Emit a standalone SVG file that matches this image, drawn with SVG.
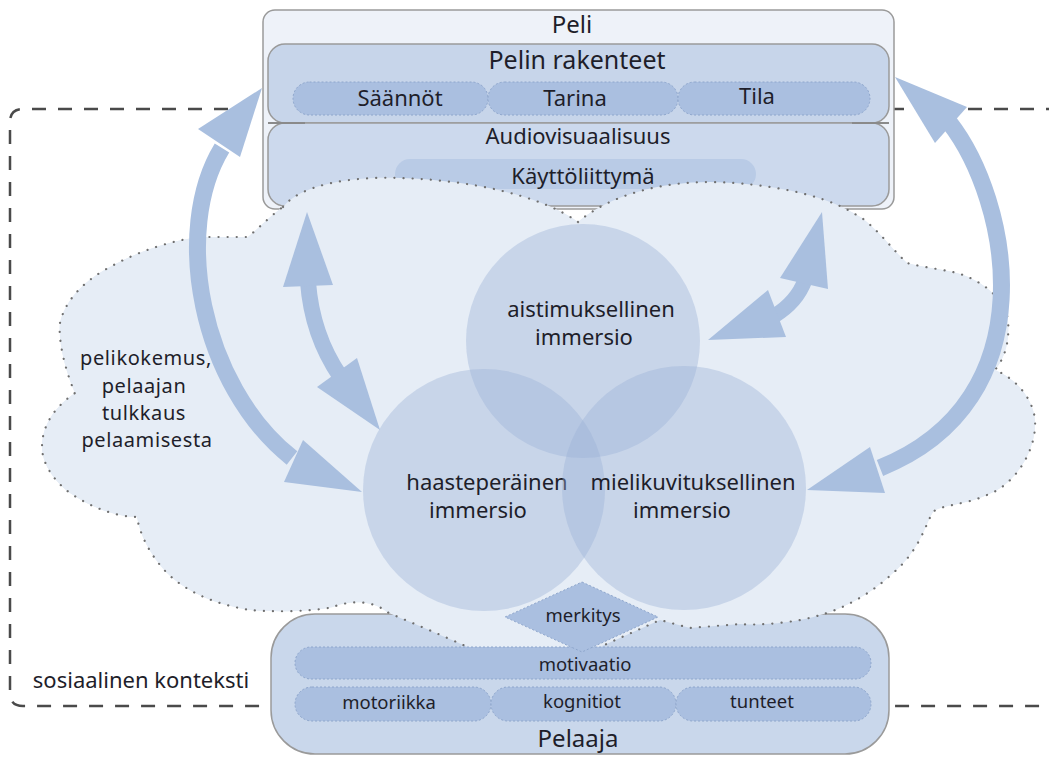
<svg xmlns="http://www.w3.org/2000/svg" width="1049" height="758" viewBox="0 0 1049 758">
<style>
text{font-family:"Noto Sans","Open Sans","DejaVu Sans",sans-serif;fill:#1e1e2a;text-anchor:middle}
.t22{font-size:22px}.t25{font-size:25px}.t19{font-size:18.5px}.t24{font-size:24px}
.t20{font-size:20px;letter-spacing:0.6px}
.pill{fill:#aabfe0;stroke:#8ea6cc;stroke-width:1;stroke-dasharray:2 2}
.box{stroke:#9a9a9a;stroke-width:1.5}
.circ{fill:#9ab2d7;fill-opacity:0.4}
.arrow{fill:#a9bfdf}
.abody{fill:none;stroke:#a9bfdf}
.dots{fill:none;stroke:#6f6f6f;stroke-width:2.2;stroke-linecap:round;stroke-dasharray:0.1 9}
.ctx{fill:none;stroke:#4a4a4a;stroke-width:2.5;stroke-dasharray:14 12}
</style>
<rect width="1049" height="758" fill="#ffffff"/>
<g id="cloud-fill">
<path id="cloudshape" d="M283,207 C300,185 350,176 400,178 C470,180 540,195 578,222 C610,195 660,182 710,182 C770,183 820,195 848,210 L862,218 C880,232 893,250 907,263 C925,268 950,270 963,275 C985,283 1005,300 1008,320 C1010,345 1003,360 995,370 C1015,378 1033,398 1035,420 C1037,450 1015,485 987,495 C965,505 940,505 933,512 C925,525 920,550 893,573 C870,595 840,610 820,615 C800,622 760,626 740,624 L690,628 L660,620 L582,655 L470,648 C430,630 400,618 387,612 C370,598 345,602 333,607 C310,612 270,612 250,610 C220,605 190,595 167,573 C150,555 140,535 137,517 C120,517 95,510 70,493 C50,478 42,460 42,447 C42,430 50,410 75,393 C65,370 58,340 60,323 C65,300 85,280 110,267 C140,250 175,240 200,237 L248,237 C262,225 275,212 283,207 Z" fill="#e6edf6"/>
</g>
<g id="context">
<path class="ctx" d="M1060,109 L23,109 Q10,109 10,122 L10,693 Q10,706 23,706 L1060,706"/>
<text x="141" y="688" class="t22">sosiaalinen konteksti</text>
</g>
<g id="peli">
<rect x="263" y="10" width="631" height="199" rx="12" fill="#eef2f9" class="box"/>
<text x="572" y="33" class="t24">Peli</text>
</g>
<g id="pelin-rakenteet">
<rect x="268" y="44" width="621" height="79" rx="17" fill="#c7d5ea" class="box"/>
<text x="577" y="69" class="t25">Pelin rakenteet</text>
<rect x="293" y="82" width="195" height="33" rx="16.5" class="pill"/>
<rect x="488" y="82" width="190" height="33" rx="16.5" class="pill"/>
<rect x="678" y="82" width="192" height="33" rx="16.5" class="pill"/>
<text x="400" y="106" class="t22">Säännöt</text>
<text x="575" y="106" class="t22">Tarina</text>
<text x="757" y="104" class="t22">Tila</text>
</g>
<g id="audiovisuaalisuus">
<rect x="268" y="123" width="621" height="83" rx="17" fill="#ccd9ed" class="box"/>
<path d="M268,123 L305,123 M852,123 L889,123" stroke="#8a8a8a" stroke-width="2"/>
<text x="578" y="144" class="t22">Audiovisuaalisuus</text>
<rect x="395" y="159" width="361" height="30" rx="15" fill="#b9cbe6" stroke="none"/>
<text x="583" y="184" class="t22">Käyttöliittymä</text>
</g>
<g id="pelaaja">
<rect x="271" y="614" width="618" height="140" rx="44" fill="#c9d7eb" class="box" stroke="#8c8c8c"/>
</g>
<g id="cloud-outline">
<use href="#cloudshape" class="dots"/>
<text x="146" y="365" class="t20">pelikokemus,</text>
<text x="144" y="393" class="t20">pelaajan</text>
<text x="144" y="420" class="t20">tulkkaus</text>
<text x="147" y="447" class="t20">pelaamisesta</text>
</g>
<g id="pelaaja-parts">
<rect x="295" y="647" width="576" height="32" rx="16" class="pill"/>
<text x="585" y="671" class="t19">motivaatio</text>
<rect x="295" y="687" width="196" height="34" rx="17" class="pill"/>
<rect x="491" y="687" width="185" height="34" rx="17" class="pill"/>
<rect x="676" y="687" width="195" height="34" rx="17" class="pill"/>
<text x="389" y="709" class="t19">motoriikka</text>
<text x="582" y="708" class="t19">kognitiot</text>
<text x="762" y="708" class="t19">tunteet</text>
<text x="578" y="747" class="t24">Pelaaja</text>
</g>
<g id="merkitys">
<polygon points="582,582 658,617 582,652 505,617" class="pill"/>
<text x="583" y="622" class="t19">merkitys</text>
</g>
<g id="aistimuksellinen">
<circle cx="583" cy="341" r="117" class="circ"/>
<text x="591" y="317" class="t22">aistimuksellinen</text>
<text x="584" y="345" class="t22">immersio</text>
</g>
<g id="haasteperainen">
<circle cx="484" cy="490" r="121" class="circ"/>
<text x="487" y="490" class="t22">haasteperäinen</text>
<text x="478" y="518" class="t22">immersio</text>
</g>
<g id="mielikuvituksellinen">
<circle cx="684" cy="488" r="122" class="circ"/>
<text x="693" y="490" class="t22">mielikuvituksellinen</text>
<text x="682" y="518" class="t22">immersio</text>
</g>
<g id="connectors">
<path class="abody" stroke-width="17" d="M222,148 C172,230 200,385 292,458"/>
<polygon class="arrow" points="262,88 198,129 240,157"/>
<polygon class="arrow" points="362,492 303,440 284,482"/>
<path class="abody" stroke-width="17" d="M949,122 C1010,200 1050,400 880,468"/>
<polygon class="arrow" points="895,77 967,107 935,143"/>
<polygon class="arrow" points="807,490 870,447 885,493"/>
<path class="abody" stroke-width="16" d="M308,282 Q312,335 340,376"/>
<polygon class="arrow" points="307,212 283,287 333,285"/>
<polygon class="arrow" points="380,430 317,387 357,358"/>
<path class="abody" stroke-width="15" d="M805,280 Q797,302 774,316"/>
<polygon class="arrow" points="822,212 780,278 828,289"/>
<polygon class="arrow" points="708,340 768,290 786,337"/>
</g>
</svg>
